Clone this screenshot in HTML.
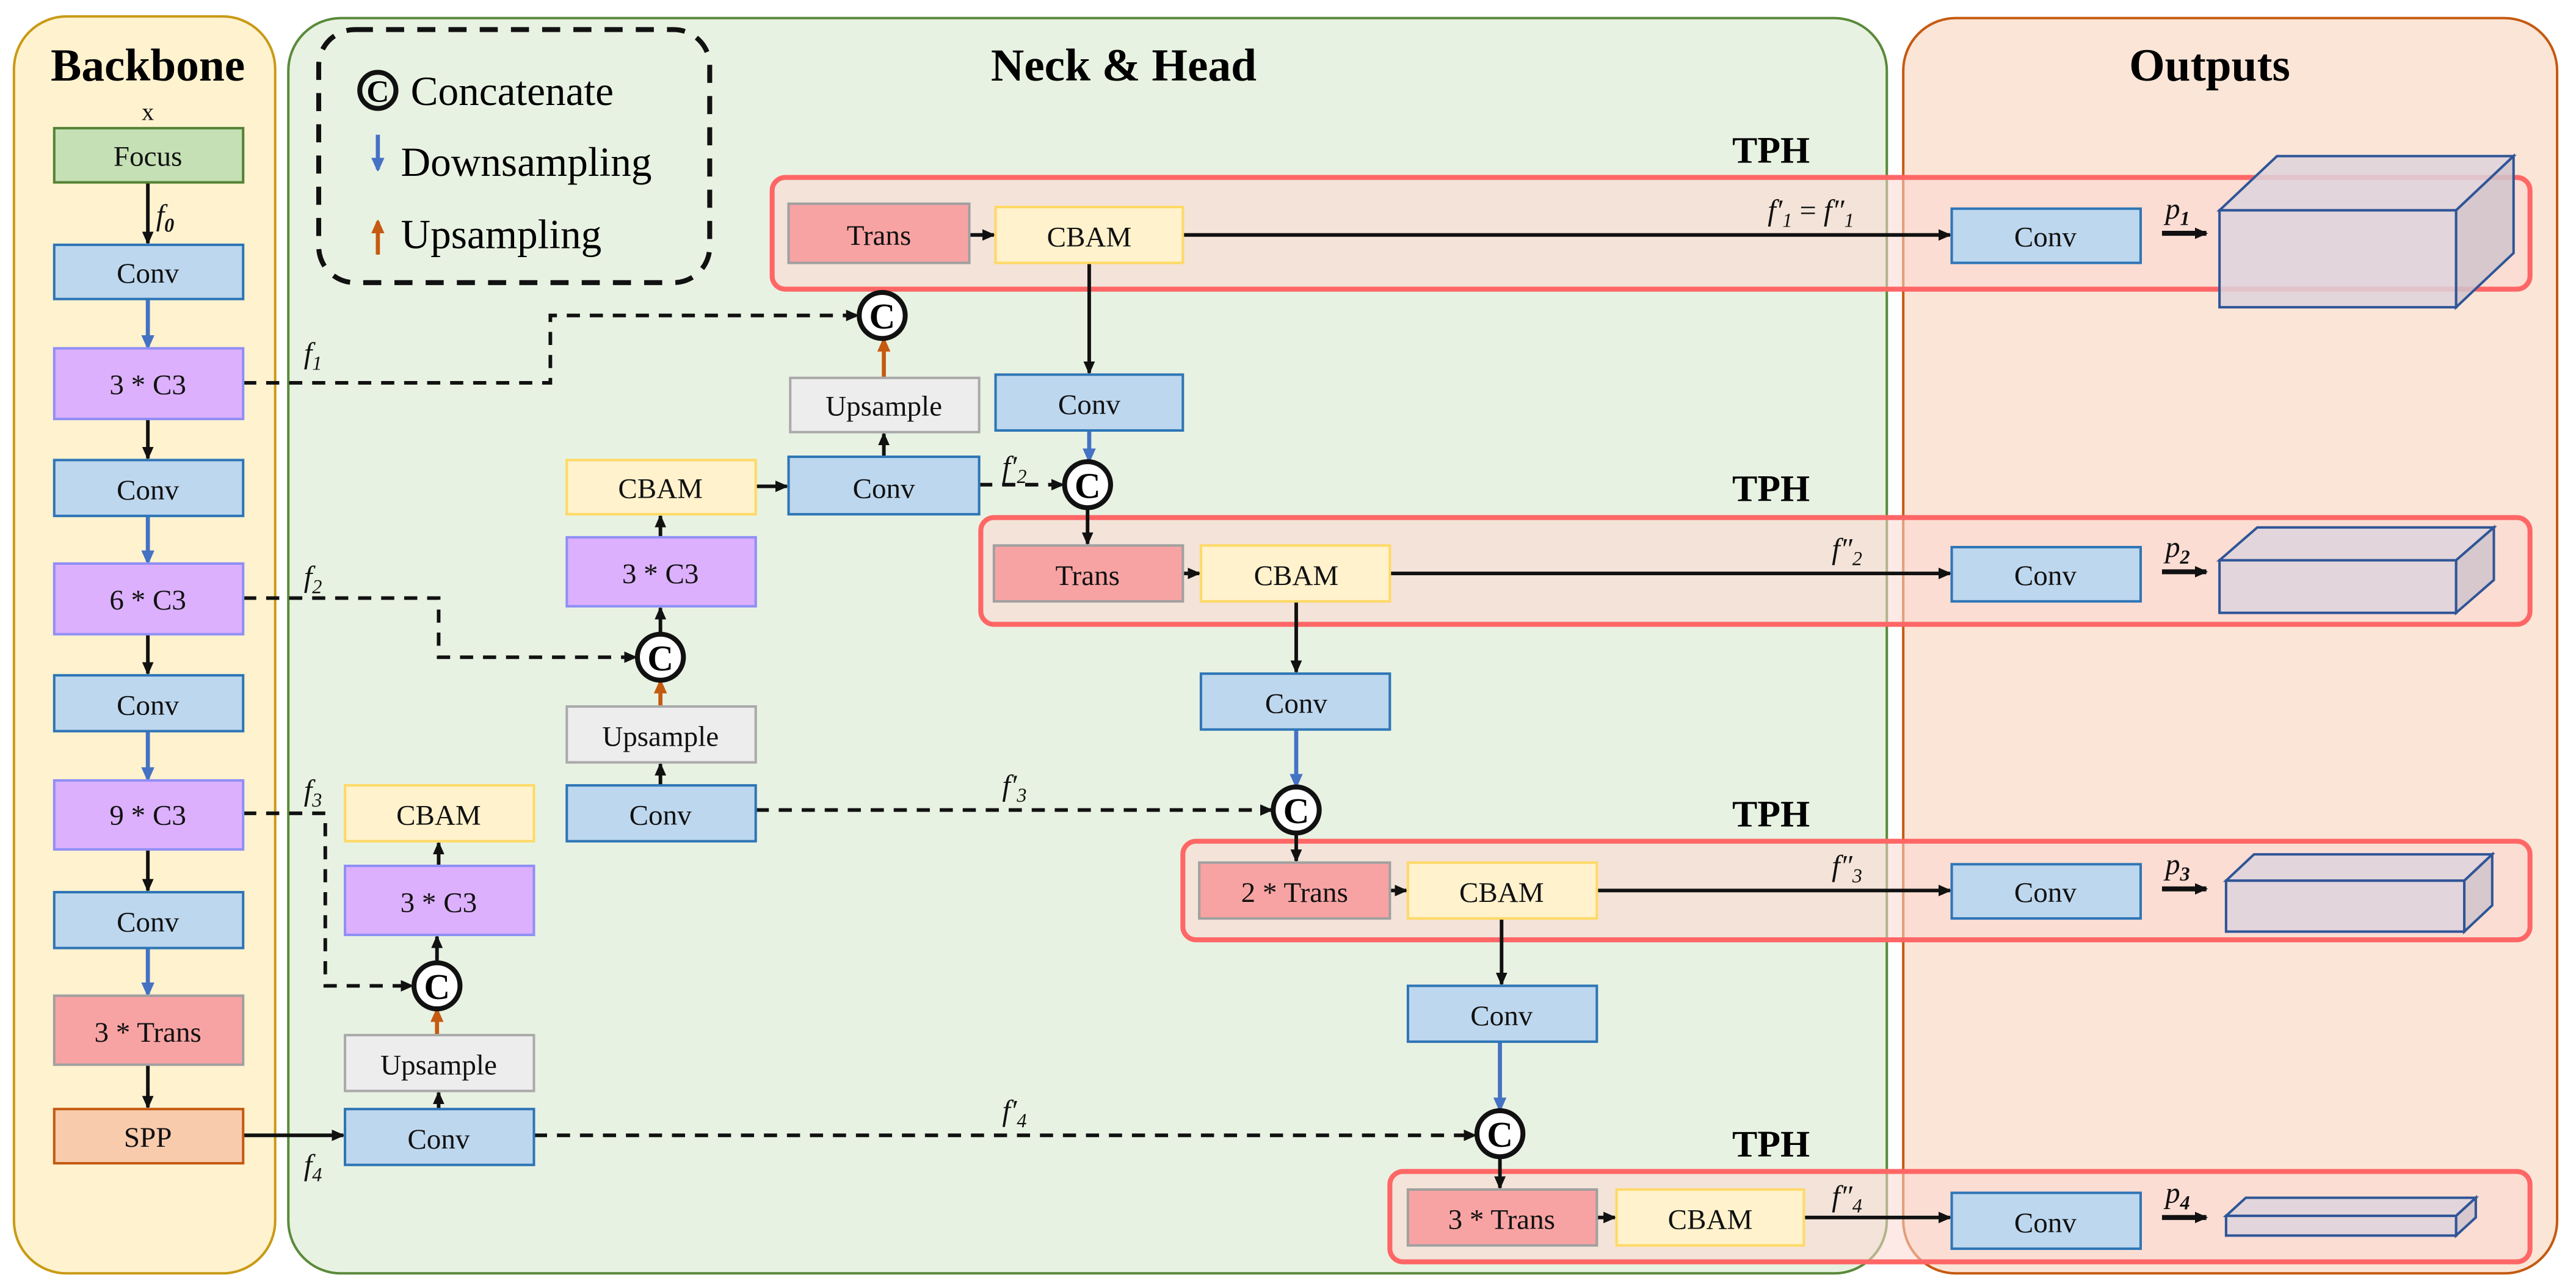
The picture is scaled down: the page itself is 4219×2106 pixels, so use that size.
<!DOCTYPE html>
<html><head><meta charset="utf-8"><style>html,body{margin:0;padding:0;background:#fff}svg{display:block}</style></head><body>
<svg width="4219" height="2106" viewBox="0 0 1568 782.7" preserveAspectRatio="none" xmlns="http://www.w3.org/2000/svg" style="font-family:'Liberation Serif',serif">
<defs>
<marker id="ak" markerWidth="8" markerHeight="8" refX="7" refY="4" orient="auto" markerUnits="userSpaceOnUse"><path d="M0,0.5 L8,4 L0,7.5 z" fill="#111"/></marker>
<marker id="ab" markerWidth="8" markerHeight="10" refX="7" refY="4" orient="auto" markerUnits="userSpaceOnUse"><path d="M0,0 L9,4 L0,8 z" fill="#4472c4"/></marker>
<marker id="ao" markerWidth="8" markerHeight="10" refX="7" refY="4" orient="auto" markerUnits="userSpaceOnUse"><path d="M0,0 L9,4 L0,8 z" fill="#c55a11"/></marker>
</defs>
<rect x="8.5" y="10" width="159" height="765" rx="32" fill="#fff2cf" stroke="#c99a14" stroke-width="1.5"/>
<rect x="175.5" y="11" width="973" height="764" rx="32" fill="#e8f2e2" stroke="#5a8a3a" stroke-width="1.5"/>
<rect x="1158.5" y="11" width="398" height="764" rx="32" fill="#fbe5d7" stroke="#c55a11" stroke-width="1.5"/>
<g font-weight="bold" font-size="28" text-anchor="middle">
<text x="90" y="49">Backbone</text><text x="684" y="49">Neck &amp; Head</text><text x="1345" y="49">Outputs</text>
<text x="1078" y="99" font-size="23">TPH</text><text x="1078" y="305" font-size="23">TPH</text><text x="1078" y="503" font-size="23">TPH</text><text x="1078" y="704" font-size="23">TPH</text>
</g>
<rect x="194" y="18" width="238" height="154" rx="22" fill="none" stroke="#111" stroke-width="3" stroke-dasharray="11,8"/>
<circle cx="230" cy="55" r="11" fill="none" stroke="#111" stroke-width="3"/><text x="230" y="62" font-size="19" font-weight="bold" text-anchor="middle">C</text>
<text x="250" y="64" font-size="25">Concatenate</text>
<line x1="230" y1="82" x2="230" y2="103" stroke="#4472c4" stroke-width="2.5" marker-end="url(#ab)"/>
<text x="244" y="107" font-size="25">Downsampling</text>
<line x1="230" y1="155" x2="230" y2="135" stroke="#c55a11" stroke-width="2.5" marker-end="url(#ao)"/>
<text x="244" y="151" font-size="25">Upsampling</text>
<g fill="#fbd7cf" fill-opacity="0.55" stroke="#ff6666" stroke-width="3">
<rect x="470" y="108" width="1070" height="68" rx="8"/>
<rect x="597" y="315" width="943" height="65" rx="8"/>
<rect x="720" y="512" width="820" height="60" rx="8"/>
<rect x="846" y="713" width="694" height="55" rx="8"/>
</g>
<g stroke="#111" stroke-width="2.2" fill="none">
<line x1="90" y1="111" x2="90" y2="148" marker-end="url(#ak)"/>
<line x1="90" y1="255" x2="90" y2="279" marker-end="url(#ak)"/>
<line x1="90" y1="386" x2="90" y2="410" marker-end="url(#ak)"/>
<line x1="90" y1="517" x2="90" y2="542" marker-end="url(#ak)"/>
<line x1="90" y1="648" x2="90" y2="674" marker-end="url(#ak)"/>
<line x1="148" y1="691" x2="209" y2="691" marker-end="url(#ak)"/>
<line x1="720" y1="143" x2="1187" y2="143" marker-end="url(#ak)"/>
<line x1="846" y1="349" x2="1187" y2="349" marker-end="url(#ak)"/>
<line x1="972" y1="542" x2="1187" y2="542" marker-end="url(#ak)"/>
<line x1="1098" y1="741" x2="1187" y2="741" marker-end="url(#ak)"/>
<line x1="1316" y1="142" x2="1343" y2="142" stroke-width="3" marker-end="url(#ak)"/>
<line x1="1316" y1="348" x2="1343" y2="348" stroke-width="3" marker-end="url(#ak)"/>
<line x1="1316" y1="541" x2="1343" y2="541" stroke-width="3" marker-end="url(#ak)"/>
<line x1="1316" y1="741" x2="1343" y2="741" stroke-width="3" marker-end="url(#ak)"/>
<line x1="590" y1="143" x2="605" y2="143" marker-end="url(#ak)"/>
<line x1="720" y1="349" x2="730" y2="349" marker-end="url(#ak)"/>
<line x1="846" y1="542" x2="856" y2="542" marker-end="url(#ak)"/>
<line x1="972" y1="741" x2="983" y2="741" marker-end="url(#ak)"/>
<line x1="663" y1="160" x2="663" y2="227" marker-end="url(#ak)"/>
<line x1="662" y1="309" x2="662" y2="331" marker-end="url(#ak)"/>
<line x1="789" y1="366" x2="789" y2="409" marker-end="url(#ak)"/>
<line x1="789" y1="507" x2="789" y2="524" marker-end="url(#ak)"/>
<line x1="914" y1="559" x2="914" y2="599" marker-end="url(#ak)"/>
<line x1="913" y1="704" x2="913" y2="723" marker-end="url(#ak)"/>
<line x1="538" y1="278" x2="538" y2="264" marker-end="url(#ak)"/>
<line x1="460" y1="296" x2="479" y2="296" marker-end="url(#ak)"/>
<line x1="402" y1="327" x2="402" y2="314" marker-end="url(#ak)"/>
<line x1="402" y1="386" x2="402" y2="370" marker-end="url(#ak)"/>
<line x1="402" y1="478" x2="402" y2="465" marker-end="url(#ak)"/>
<line x1="267" y1="527" x2="267" y2="513" marker-end="url(#ak)"/>
<line x1="266" y1="586" x2="266" y2="570" marker-end="url(#ak)"/>
<line x1="267" y1="675" x2="267" y2="665" marker-end="url(#ak)"/>
</g>
<g stroke="#4472c4" stroke-width="2.5" fill="none">
<line x1="90" y1="182" x2="90" y2="211" marker-end="url(#ab)"/>
<line x1="90" y1="314" x2="90" y2="342" marker-end="url(#ab)"/>
<line x1="90" y1="445" x2="90" y2="474" marker-end="url(#ab)"/>
<line x1="90" y1="577" x2="90" y2="605" marker-end="url(#ab)"/>
<line x1="663" y1="262" x2="663" y2="280" marker-end="url(#ab)"/>
<line x1="789" y1="444" x2="789" y2="478" marker-end="url(#ab)"/>
<line x1="913" y1="634" x2="913" y2="675" marker-end="url(#ab)"/>
</g>
<g stroke="#c55a11" stroke-width="2.5" fill="none">
<line x1="538" y1="230" x2="538" y2="207" marker-end="url(#ao)"/>
<line x1="402" y1="430" x2="402" y2="415" marker-end="url(#ao)"/>
<line x1="266" y1="630" x2="266" y2="615" marker-end="url(#ao)"/>
</g>
<g stroke="#111" stroke-width="2.2" fill="none" stroke-dasharray="8,6">
<polyline points="148,233 335,233 335,192 522,192" marker-end="url(#ak)"/>
<polyline points="148,364 267,364 267,400 387,400" marker-end="url(#ak)"/>
<polyline points="148,495 198,495 198,600 251,600" marker-end="url(#ak)"/>
<line x1="596" y1="295" x2="647" y2="295" marker-end="url(#ak)"/>
<line x1="460" y1="493" x2="774" y2="493" marker-end="url(#ak)"/>
<line x1="325" y1="691" x2="898" y2="691" marker-end="url(#ak)"/>
</g>
<g fill="#fff" stroke="#111" stroke-width="3">
<circle cx="537" cy="192" r="14"/><circle cx="662" cy="295" r="14"/><circle cx="402" cy="400" r="14"/>
<circle cx="266" cy="600" r="14"/><circle cx="789" cy="493" r="14"/><circle cx="913" cy="690" r="14"/>
</g>
<g font-size="22" font-weight="bold" text-anchor="middle">
<text x="537" y="200">C</text><text x="662" y="303">C</text><text x="402" y="408">C</text>
<text x="266" y="608">C</text><text x="789" y="501">C</text><text x="913" y="698">C</text>
</g>
<g stroke-width="1.5">
<g fill="#bdd7ee" stroke="#2e75b6">
<rect x="33" y="149" width="115" height="33"/><rect x="33" y="280" width="115" height="34"/><rect x="33" y="411" width="115" height="34"/><rect x="33" y="543" width="115" height="34"/>
<rect x="480" y="278" width="116" height="35"/><rect x="606" y="228" width="114" height="34"/><rect x="345" y="478" width="115" height="34"/><rect x="210" y="675" width="115" height="34"/>
<rect x="731" y="410" width="115" height="34"/><rect x="857" y="600" width="115" height="34"/>
<rect x="1188" y="127" width="115" height="33"/><rect x="1188" y="333" width="115" height="33"/><rect x="1188" y="526" width="115" height="33"/><rect x="1188" y="726" width="115" height="34"/>
</g>
<rect x="33" y="78" width="115" height="33" fill="#c5e0b4" stroke="#548235"/>
<g fill="#dcb0fc" stroke="#8f8ff5">
<rect x="33" y="212" width="115" height="43"/><rect x="33" y="343" width="115" height="43"/><rect x="33" y="475" width="115" height="42"/>
<rect x="345" y="327" width="115" height="42"/><rect x="210" y="527" width="115" height="42"/>
</g>
<g fill="#f8a3a3" stroke="#a0a0a0">
<rect x="33" y="606" width="115" height="42"/><rect x="480" y="124" width="110" height="36"/><rect x="605" y="332" width="115" height="34"/>
<rect x="730" y="525" width="116" height="34"/><rect x="857" y="724" width="115" height="34"/>
</g>
<rect x="33" y="675" width="115" height="33" fill="#f8cbad" stroke="#c55a11"/>
<g fill="#fff2cc" stroke="#ffd966">
<rect x="606" y="126" width="114" height="34"/><rect x="345" y="280" width="115" height="33"/><rect x="210" y="478" width="115" height="34"/>
<rect x="731" y="332" width="115" height="34"/><rect x="857" y="525" width="115" height="34"/><rect x="984" y="724" width="114" height="34"/>
</g>
<g fill="#ededed" stroke="#aaaaaa">
<rect x="481" y="230" width="115" height="33"/><rect x="345" y="430" width="115" height="34"/><rect x="210" y="630" width="115" height="34"/>
</g>
</g>
<g font-size="17.5" text-anchor="middle" fill="#111">
<text x="90" y="101">Focus</text><text x="90" y="172">Conv</text><text x="90" y="240">3 * C3</text><text x="90" y="304">Conv</text>
<text x="90" y="371">6 * C3</text><text x="90" y="435">Conv</text><text x="90" y="502">9 * C3</text><text x="90" y="567">Conv</text>
<text x="90" y="634">3 * Trans</text><text x="90" y="698">SPP</text>
<text x="535" y="149">Trans</text><text x="663" y="150">CBAM</text><text x="538" y="253">Upsample</text><text x="663" y="252">Conv</text>
<text x="402" y="303">CBAM</text><text x="538" y="303">Conv</text><text x="402" y="355">3 * C3</text><text x="402" y="454">Upsample</text><text x="402" y="502">Conv</text>
<text x="267" y="502">CBAM</text><text x="267" y="555">3 * C3</text><text x="267" y="654">Upsample</text><text x="267" y="699">Conv</text>
<text x="662" y="356">Trans</text><text x="789" y="356">CBAM</text><text x="789" y="434">Conv</text>
<text x="788" y="549">2 * Trans</text><text x="914" y="549">CBAM</text><text x="914" y="624">Conv</text>
<text x="914" y="748">3 * Trans</text><text x="1041" y="748">CBAM</text>
<text x="1245" y="150">Conv</text><text x="1245" y="356">Conv</text><text x="1245" y="549">Conv</text><text x="1245" y="750">Conv</text>
<text x="90" y="73" font-size="15">x</text>
</g>
<g font-size="18" font-style="italic" fill="#111">
<text x="95" y="137">f<tspan font-size="12" dy="4" font-weight="bold">0</tspan></text>
<text x="185" y="221">f<tspan font-size="12" dy="4">1</tspan></text>
<text x="185" y="357">f<tspan font-size="12" dy="4">2</tspan></text>
<text x="185" y="487">f<tspan font-size="12" dy="4">3</tspan></text>
<text x="185" y="715">f<tspan font-size="12" dy="4">4</tspan></text>
<text x="610" y="290">f′<tspan font-size="12" dy="4">2</tspan></text>
<text x="610" y="484">f′<tspan font-size="12" dy="4">3</tspan></text>
<text x="610" y="682">f′<tspan font-size="12" dy="4">4</tspan></text>
<text x="1076" y="134">f′<tspan font-size="12" dy="4">1</tspan><tspan dy="-4" font-style="normal"> = </tspan>f″<tspan font-size="12" dy="4">1</tspan></text>
<text x="1115" y="340">f″<tspan font-size="12" dy="4">2</tspan></text>
<text x="1115" y="533">f″<tspan font-size="12" dy="4">3</tspan></text>
<text x="1115" y="734">f″<tspan font-size="12" dy="4">4</tspan></text>
<text x="1318" y="133">p<tspan font-size="12" dy="4" font-weight="bold">1</tspan></text>
<text x="1318" y="339">p<tspan font-size="12" dy="4" font-weight="bold">2</tspan></text>
<text x="1318" y="532">p<tspan font-size="12" dy="4" font-weight="bold">3</tspan></text>
<text x="1318" y="732">p<tspan font-size="12" dy="4" font-weight="bold">4</tspan></text>
</g>
<g stroke="#2f5597" stroke-width="1.5" fill="#ddd3dc" fill-opacity="0.85">
<path d="M1351,128 L1386,95 L1530,95 L1495,128 Z"/><path d="M1495,128 L1530,95 L1530,154 L1495,187 Z" fill="#d0c4cc"/><rect x="1351" y="128" width="144" height="59"/>
<path d="M1351,341 L1374,321 L1518,321 L1495,341 Z"/><path d="M1495,341 L1518,321 L1518,353 L1495,373 Z" fill="#d0c4cc"/><rect x="1351" y="341" width="144" height="32"/>
<path d="M1355,536 L1372,520 L1517,520 L1500,536 Z"/><path d="M1500,536 L1517,520 L1517,551 L1500,567 Z" fill="#d0c4cc"/><rect x="1355" y="536" width="145" height="31"/>
<path d="M1355,740 L1367,729 L1507,729 L1495,740 Z"/><path d="M1495,740 L1507,729 L1507,741 L1495,752 Z" fill="#d0c4cc"/><rect x="1355" y="740" width="140" height="12"/>
</g>
</svg>
</body></html>
